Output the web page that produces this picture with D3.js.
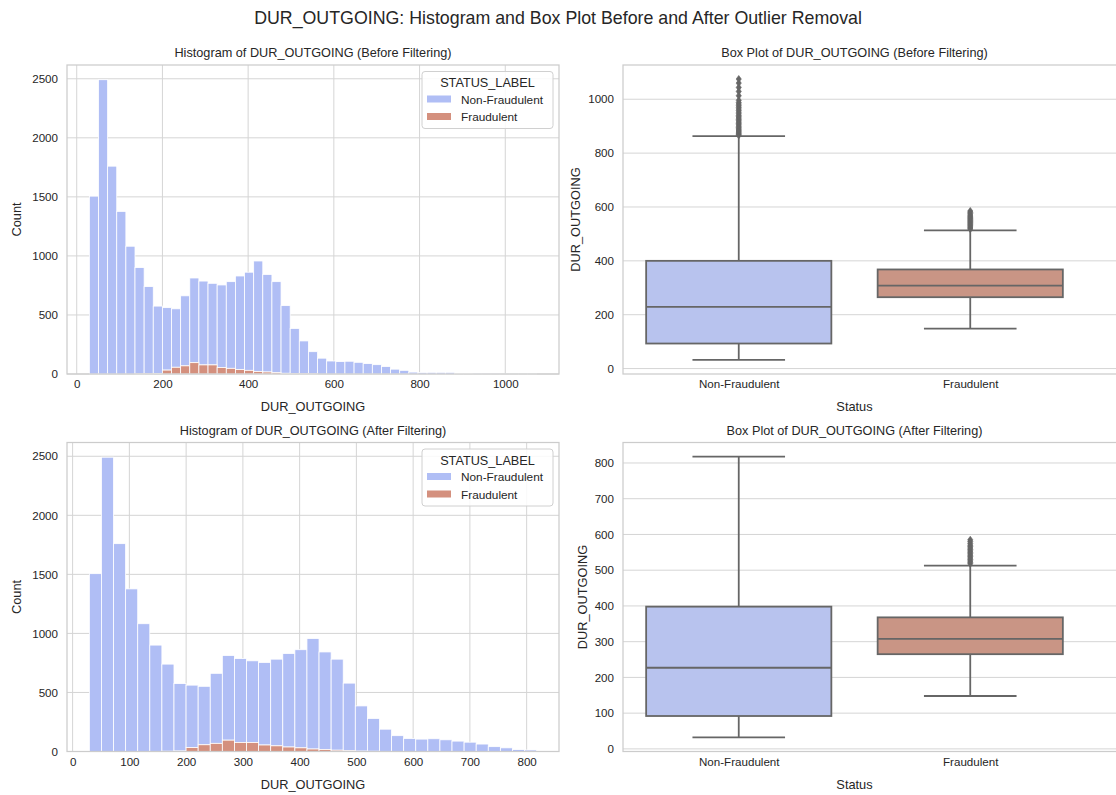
<!DOCTYPE html>
<html>
<head>
<meta charset="utf-8">
<script src="https://cdn.jsdelivr.net/npm/d3@7"></script>
<style>
  body { margin: 0; background: #fff; }
  svg { font-family: "Liberation Sans", Arial, sans-serif; }
  .tick text { fill: #262626; font-size: 11.6px; }
</style>
</head>
<body>
<div id="chart"></div>
<script>
// Data
const statusLabels = ["Non-Fraudulent", "Fraudulent"];
const binStart = 29.5;
const binWidth = 21.3;

// histogram counts per bin (total height and the fraudulent part)
const totalBefore = [1506, 2492, 1760, 1377, 1082, 901, 740, 575, 562, 552,
    662, 813, 787, 768, 754, 782, 830, 862, 957, 843,
    782, 579, 386, 280, 189, 134, 110, 105, 108, 99,
    88, 79, 63, 41, 31, 16, 13, 14, 14, 14,
    6, 6, 3, 2, 2, 1, 1, 1, 1];
const fraudBefore = [0, 0, 0, 0, 0, 1, 2, 4, 33, 57,
    69, 96, 77, 77, 55, 48, 38, 31, 21, 17,
    11, 6, 3, 2, 1, 0, 0, 0, 0, 0,
    0, 0, 0, 0, 0, 0, 0, 0, 0, 0,
    0, 0, 0, 0, 0, 0, 0, 0, 0];
const totalAfter = [1506, 2492, 1760, 1377, 1082, 901, 740, 575, 562, 552,
    662, 813, 787, 768, 754, 782, 830, 862, 957, 843,
    782, 579, 386, 280, 189, 134, 110, 105, 108, 99,
    88, 79, 63, 41, 31, 16, 13];
const fraudAfter = [0, 0, 0, 0, 0, 1, 2, 4, 33, 57,
    69, 96, 77, 77, 55, 48, 38, 31, 21, 17,
    11, 6, 3, 2, 1, 0, 0, 0, 0, 0,
    0, 0, 0, 0, 0, 0, 0];

// box plot stats [Non-Fraudulent, Fraudulent]
const beforeLow = [32, 148], beforeQ1 = [93, 265], beforeMed = [229, 308], beforeQ3 = [400, 368], beforeHigh = [863, 513];
const afterLow = [32, 148], afterQ1 = [92, 265], afterMed = [227, 308], afterQ3 = [398, 368], afterHigh = [818, 513];
const outliersNonFraudBefore = [866, 870, 874, 878, 882, 886, 890, 895, 900, 905, 910, 915, 920, 925, 930,
    935, 940, 946, 952, 958, 964, 970, 976, 982, 988, 996, 1013, 1029, 1044, 1060, 1075];
const outliersFraud = [518, 522, 526, 530, 534, 538, 542, 546, 550, 554, 558, 562, 566, 570, 575, 580, 585];

const histBlue = "#b0bef5", histRed = "#d4907e";
const boxBlue = "#b8c3ee", boxRed = "#c99585";
const lineGrey = "#666666";
const gridColor = "#d5d5d5";

const W = 1116, H = 795;
const svg = d3.select("#chart").append("svg")
    .attr("width", W)
    .attr("height", H);

// Suptitle
svg.append("text")
    .attr("x", W / 2)
    .attr("y", 24)
    .attr("text-anchor", "middle")
    .style("font-size", "17.8px")
    .style("fill", "#262626")
    .text("DUR_OUTGOING: Histogram and Box Plot Before and After Outlier Removal");

function frame(g, x0, x1, y0, y1) {
    g.append("rect")
        .attr("x", x0).attr("y", y0)
        .attr("width", x1 - x0).attr("height", y1 - y0)
        .style("fill", "none")
        .style("stroke", "#cccccc")
        .style("stroke-width", 1.25);
}

function titleText(x, y, txt) {
    svg.append("text")
        .attr("x", x).attr("y", y)
        .attr("text-anchor", "middle")
        .style("font-size", "12.7px")
        .style("fill", "#262626")
        .text(txt);
}

function axisLabel(x, y, txt, rotate) {
    const t = svg.append("text")
        .attr("text-anchor", "middle")
        .style("font-size", "12.8px")
        .style("fill", "#262626")
        .text(txt);
    if (rotate) t.attr("transform", `translate(${x},${y}) rotate(-90)`);
    else t.attr("x", x).attr("y", y);
}

function histogram(opts) {
    const { left, right, top, bottom, totals, frauds, xTicks, title } = opts;
    const binEnd = binStart + totals.length * binWidth;
    const pad = (binEnd - binStart) * 0.05;
    const x = d3.scaleLinear().domain([binStart - pad, binEnd + pad]).range([left, right]);
    const y = d3.scaleLinear().domain([0, d3.max(totals) * 1.05]).range([bottom, top]);

    const g = svg.append("g");

    // grid
    g.append("g").selectAll("line").data(xTicks).join("line")
        .attr("x1", d => x(d)).attr("x2", d => x(d))
        .attr("y1", top).attr("y2", bottom)
        .style("stroke", gridColor);
    g.append("g").selectAll("line").data(d3.range(0, 2501, 500)).join("line")
        .attr("x1", left).attr("x2", right)
        .attr("y1", d => y(d)).attr("y2", d => y(d))
        .style("stroke", gridColor);

    const bins = totals.map((t, i) => ({
        x0: binStart + i * binWidth,
        x1: binStart + (i + 1) * binWidth,
        total: t,
        fraud: frauds[i]
    }));

    // non-fraudulent part stacked above the fraudulent part
    g.append("g").selectAll("rect").data(bins).join("rect")
        .attr("x", d => x(d.x0))
        .attr("width", d => x(d.x1) - x(d.x0))
        .attr("y", d => y(d.total))
        .attr("height", d => y(d.fraud) - y(d.total))
        .style("fill", histBlue)
        .style("stroke", "#ffffff")
        .style("stroke-width", 0.8);
    g.append("g").selectAll("rect").data(bins.filter(d => d.fraud > 0)).join("rect")
        .attr("x", d => x(d.x0))
        .attr("width", d => x(d.x1) - x(d.x0))
        .attr("y", d => y(d.fraud))
        .attr("height", d => y(0) - y(d.fraud))
        .style("fill", histRed)
        .style("stroke", "#ffffff")
        .style("stroke-width", 0.8);

    frame(g, left, right, top, bottom);

    // axes (no tick marks, like seaborn whitegrid)
    g.append("g")
        .attr("transform", `translate(0,${bottom})`)
        .call(d3.axisBottom(x).tickValues(xTicks).tickSize(0).tickPadding(6).tickFormat(d3.format("d")))
        .call(a => a.select(".domain").remove());
    g.append("g")
        .attr("transform", `translate(${left},0)`)
        .call(d3.axisLeft(y).tickValues(d3.range(0, 2501, 500)).tickSize(0).tickPadding(9).tickFormat(d3.format("d")))
        .call(a => a.select(".domain").remove());

    titleText((left + right) / 2, top - 8, title);
    axisLabel((left + right) / 2, bottom + 37, "DUR_OUTGOING", false);
    axisLabel(21, (top + bottom) / 2, "Count", true);

    // legend
    const lg = g.append("g").attr("transform", `translate(${right - 137},${top + 6.5})`);
    lg.append("rect")
        .attr("width", 131).attr("height", 57).attr("rx", 3)
        .style("fill", "rgba(255,255,255,0.85)")
        .style("stroke", "#d0d0d0");
    lg.append("text")
        .attr("x", 65.5).attr("y", 15.5)
        .attr("text-anchor", "middle")
        .style("font-size", "12.7px").style("fill", "#262626")
        .text("STATUS_LABEL");
    [histBlue, histRed].forEach((c, i) => {
        lg.append("rect")
            .attr("x", 5).attr("y", 24 + i * 17.5)
            .attr("width", 24).attr("height", 7)
            .style("fill", c);
        lg.append("text")
            .attr("x", 39).attr("y", 32 + i * 17.5)
            .style("font-size", "11.8px").style("fill", "#262626")
            .text(statusLabels[i]);
    });
}

function boxplot(opts) {
    const { left, right, frameRight, top, bottom, low, q1, med, q3, high, fliers, yTicks, title, yLabelX } = opts;
    const allVals = low.concat(high, fliers[0], fliers[1]);
    const mn = d3.min(allVals), mx = d3.max(allVals);
    const pad = (mx - mn) * 0.05;
    const x = d3.scaleLinear().domain([-0.5, 1.5]).range([left, right]);
    const y = d3.scaleLinear().domain([mn - pad, mx + pad]).range([bottom, top]);

    const g = svg.append("g");
    g.append("g").selectAll("line").data(yTicks).join("line")
        .attr("x1", left).attr("x2", frameRight)
        .attr("y1", d => y(d)).attr("y2", d => y(d))
        .style("stroke", gridColor);

    const lw = 1.8;
    statusLabels.forEach((s, i) => {
        const fill = i === 0 ? boxBlue : boxRed;
        const cx = x(i);
        // whiskers
        g.append("line")
            .attr("x1", cx).attr("x2", cx)
            .attr("y1", y(low[i])).attr("y2", y(q1[i]))
            .style("stroke", lineGrey).style("stroke-width", lw);
        g.append("line")
            .attr("x1", cx).attr("x2", cx)
            .attr("y1", y(q3[i])).attr("y2", y(high[i]))
            .style("stroke", lineGrey).style("stroke-width", lw);
        [low[i], high[i]].forEach(v => {
            g.append("line")
                .attr("x1", x(i - 0.2)).attr("x2", x(i + 0.2))
                .attr("y1", y(v)).attr("y2", y(v))
                .style("stroke", lineGrey).style("stroke-width", lw);
        });
        // box
        g.append("rect")
            .attr("x", x(i - 0.4))
            .attr("width", x(i + 0.4) - x(i - 0.4))
            .attr("y", y(q3[i]))
            .attr("height", y(q1[i]) - y(q3[i]))
            .style("fill", fill)
            .style("stroke", lineGrey).style("stroke-width", lw);
        g.append("line")
            .attr("x1", x(i - 0.4)).attr("x2", x(i + 0.4))
            .attr("y1", y(med[i])).attr("y2", y(med[i]))
            .style("stroke", lineGrey).style("stroke-width", lw);
        // outliers as diamonds
        g.append("g").selectAll("path").data(fliers[i]).join("path")
            .attr("d", "M0,-3.6L2.6,0L0,3.6L-2.6,0Z")
            .attr("transform", d => `translate(${cx},${y(d)})`)
            .style("fill", lineGrey)
            .style("stroke", lineGrey)
            .style("stroke-width", 0.6);
    });

    frame(g, left, frameRight, top, bottom);

    g.append("g")
        .attr("transform", `translate(0,${bottom})`)
        .call(d3.axisBottom(x).tickValues([0, 1]).tickSize(0).tickPadding(6).tickFormat(i => statusLabels[i]))
        .call(a => a.select(".domain").remove());
    g.append("g")
        .attr("transform", `translate(${left},0)`)
        .call(d3.axisLeft(y).tickValues(yTicks).tickSize(0).tickPadding(9).tickFormat(d3.format("d")))
        .call(a => a.select(".domain").remove());

    titleText((left + right) / 2, top - 8, title);
    axisLabel((left + right) / 2, bottom + 37, "Status", false);
    axisLabel(yLabelX, (top + bottom) / 2, "DUR_OUTGOING", true);
}

histogram({
    left: 67, right: 559, top: 65, bottom: 374,
    totals: totalBefore, frauds: fraudBefore,
    xTicks: [0, 200, 400, 600, 800, 1000],
    title: "Histogram of DUR_OUTGOING (Before Filtering)"
});
histogram({
    left: 67, right: 559, top: 442.5, bottom: 751.5,
    totals: totalAfter, frauds: fraudAfter,
    xTicks: [0, 100, 200, 300, 400, 500, 600, 700, 800],
    title: "Histogram of DUR_OUTGOING (After Filtering)"
});
boxplot({
    left: 623, right: 1086, frameRight: 1118, top: 65, bottom: 374,
    low: beforeLow, q1: beforeQ1, med: beforeMed, q3: beforeQ3, high: beforeHigh,
    fliers: [outliersNonFraudBefore, outliersFraud],
    yTicks: [0, 200, 400, 600, 800, 1000],
    title: "Box Plot of DUR_OUTGOING (Before Filtering)",
    yLabelX: 580
});
boxplot({
    left: 623, right: 1086, frameRight: 1118, top: 442.5, bottom: 751.5,
    low: afterLow, q1: afterQ1, med: afterMed, q3: afterQ3, high: afterHigh,
    fliers: [[], outliersFraud],
    yTicks: [0, 100, 200, 300, 400, 500, 600, 700, 800],
    title: "Box Plot of DUR_OUTGOING (After Filtering)",
    yLabelX: 587
});
</script>
</body>
</html>
